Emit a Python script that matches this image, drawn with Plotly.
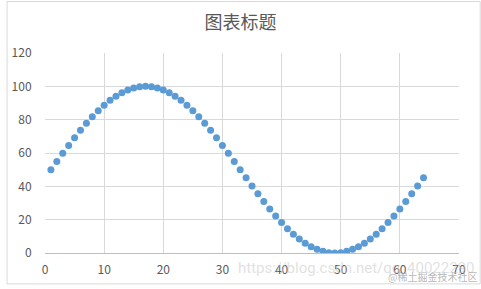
import plotly.graph_objects as go

x_values = list(range(1, 65))
y_values = [
    50.0, 54.9, 59.8, 64.5, 69.1, 73.6, 77.8, 81.7, 85.4, 88.7, 91.6, 94.1, 96.2, 97.8, 99.0, 99.8,
    100.0, 99.8, 99.0, 97.8, 96.2, 94.1, 91.6, 88.7, 85.4, 81.7, 77.8, 73.6, 69.1, 64.5, 59.8, 54.9,
    50.0, 45.1, 40.2, 35.5, 30.9, 26.4, 22.2, 18.3, 14.6, 11.3, 8.4, 5.9, 3.8, 2.2, 1.0, 0.2,
    0.0, 0.2, 1.0, 2.2, 3.8, 5.9, 8.4, 11.3, 14.6, 18.3, 22.2, 26.4, 30.9, 35.5, 40.2, 45.1,
]
title_text = "图表标题"
x_ticks = [0, 10, 20, 30, 40, 50, 60, 70]
y_ticks = [0, 20, 40, 60, 80, 100, 120]

W, H = 481, 289
L, R, T, B = 39, 22, 53, 32
pw, ph = W - L - R, H - T - B

fig = go.Figure()
fig.add_trace(go.Scatter(
    x=x_values, y=y_values, mode="markers",
    marker=dict(color="#5B9BD5", size=7, line=dict(width=0)),
    showlegend=False, hoverinfo="skip",
))

font_family = "Noto Sans CJK SC, Noto Sans, sans-serif"
fig.update_layout(
    width=W, height=H,
    margin=dict(l=L, r=R, t=T, b=B),
    paper_bgcolor="white", plot_bgcolor="white",
    font=dict(family=font_family, size=12, color="#595959"),
    title=dict(text=title_text, x=0.5, xanchor="center", y=1 - 23 / H, yanchor="middle",
               font=dict(size=18, color="#595959", family=font_family)),
    xaxis=dict(range=[0, 70], tickvals=x_ticks, showgrid=True, gridcolor="#D9D9D9", gridwidth=1,
               zeroline=False, showline=True, linecolor="#BFBFBF", linewidth=1,
               ticks="outside", ticklen=6, tickcolor="rgba(0,0,0,0)",
               tickfont=dict(size=12, color="#595959")),
    yaxis=dict(range=[0, 120], tickvals=y_ticks, showgrid=True, gridcolor="#D9D9D9", gridwidth=1,
               zeroline=False, showline=False,
               ticks="outside", ticklen=10, tickcolor="rgba(0,0,0,0)",
               tickfont=dict(size=12, color="#595959")),
)

# outer chart border
fig.add_shape(type="rect", xref="paper", yref="paper",
              x0=(0.5 - L) / pw, x1=(W - 0.5 - L) / pw,
              y0=-(B - 0.5) / ph, y1=1 + (T - 0.5) / ph,
              line=dict(color="#D9D9D9", width=1), layer="below")

# watermarks
fig.add_annotation(text="https://blog.csdn.net/qq_40022290", xref="paper", yref="paper",
                   x=(355 - L) / pw, y=-(272 - (H - B)) / ph, xanchor="center", yanchor="middle",
                   showarrow=False,
                   font=dict(size=15, color="rgba(200,200,200,0.55)", family="Roboto, sans-serif"))
fig.add_annotation(text="@稀土掘金技术社区", xref="paper", yref="paper",
                   x=(432 - L) / pw, y=-(281 - (H - B)) / ph, xanchor="center", yanchor="middle",
                   showarrow=False,
                   font=dict(size=10, color="rgba(170,170,170,0.85)", family=font_family))

fig.write_html("out.html")
